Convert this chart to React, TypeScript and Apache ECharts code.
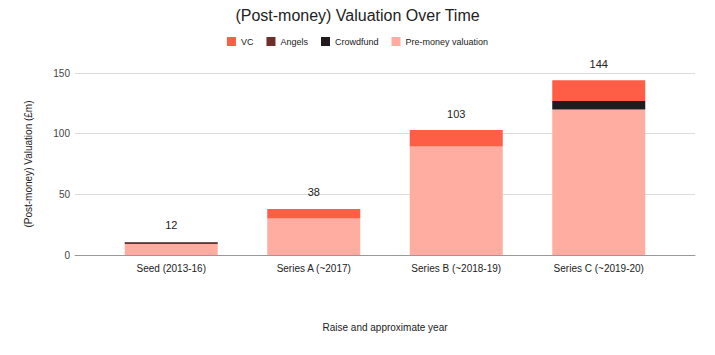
import React, { useEffect, useRef } from "react";
import * as echarts from "echarts";

const categories = ["Seed (2013-16)", "Series A (~2017)", "Series B (~2018-19)", "Series C (~2019-20)"];
const preMoney = [9, 30, 89.5, 120];
const angels = [1.3, 0, 0, 0];
const crowdfund = [0.5, 0, 0, 7];
const vc = [0, 8, 13.5, 17];
const totalLabels = [12, 38, 103, 144];
const yTicks = { min: 0, max: 150, interval: 50 };

const FONT = "'Liberation Sans', Arial, sans-serif";

export default function App() {
  const ref = useRef<HTMLDivElement>(null);
  useEffect(() => {
    if (!ref.current) return;
    const chart = echarts.init(ref.current, null, { renderer: "svg" });
    const barCommon = {
      type: "bar" as const,
      stack: "total",
      xAxisIndex: 1,
      yAxisIndex: 1,
      barWidth: 93,
    };
    chart.setOption({
      animation: false,
      backgroundColor: "#ffffff",
      textStyle: { fontFamily: FONT },
      title: {
        text: "(Post-money) Valuation Over Time",
        left: "center",
        top: 2,
        textStyle: { fontSize: 16, fontWeight: "normal", color: "#222", fontFamily: FONT },
      },
      legend: {
        data: ["VC", "Angels", "Crowdfund", "Pre-money valuation"],
        top: 32,
        left: "center",
        icon: "rect",
        itemWidth: 9,
        itemHeight: 9,
        itemGap: 13,
        textStyle: { fontSize: 9, color: "#222", fontFamily: FONT },
      },
      grid: [
        { left: 75, right: 20, top: 73, bottom: 100 },
        { left: 100, right: 45, top: 73, bottom: 100 },
      ],
      xAxis: [
        {
          gridIndex: 0,
          type: "value",
          min: 0,
          max: 1,
          axisLabel: { show: false },
          axisTick: { show: false },
          splitLine: { show: false },
          axisLine: { show: true, lineStyle: { color: "#999", width: 1 } },
          name: "Raise and approximate year",
          nameLocation: "middle",
          nameGap: 67,
          nameTextStyle: { fontSize: 10, color: "#222", fontFamily: FONT },
        },
        {
          gridIndex: 1,
          type: "category",
          data: categories,
          axisLine: { show: false },
          axisTick: { show: false },
          axisLabel: { fontSize: 10, color: "#222", margin: 8, fontFamily: FONT },
        },
      ],
      yAxis: [
        {
          gridIndex: 0,
          type: "value",
          min: yTicks.min,
          max: yTicks.max,
          interval: yTicks.interval,
          axisLine: { show: false },
          axisTick: { show: false },
          axisLabel: { fontSize: 10, color: "#444", margin: 5, fontFamily: FONT },
          splitLine: { lineStyle: { color: "#dddddd", width: 1 } },
          name: "(Post-money) Valuation (£m)",
          nameLocation: "middle",
          nameGap: 42,
          nameTextStyle: { fontSize: 10, color: "#222", fontFamily: FONT },
        },
        {
          gridIndex: 1,
          type: "value",
          min: yTicks.min,
          max: yTicks.max,
          interval: yTicks.interval,
          show: false,
          splitLine: { show: false },
        },
      ],
      series: [
        { ...barCommon, name: "Pre-money valuation", data: preMoney, itemStyle: { color: "#ffada0" } },
        { ...barCommon, name: "Angels", data: angels, itemStyle: { color: "#6e2f2b" } },
        { ...barCommon, name: "Crowdfund", data: crowdfund, itemStyle: { color: "#1f1b1e" } },
        { ...barCommon, name: "VC", data: vc, itemStyle: { color: "#ff5e46" } },
        {
          ...barCommon,
          name: "total",
          data: categories.map(() => 0),
          itemStyle: { color: "transparent" },
          label: {
            show: true,
            position: "top",
            distance: 11,
            fontSize: 11,
            color: "#222",
            fontFamily: FONT,
            formatter: (p: any) => String(totalLabels[p.dataIndex]),
          },
        },
      ],
    });
    return () => chart.dispose();
  }, []);
  return (
    <div
      ref={ref}
      style={{ position: "fixed", left: 0, top: 0, width: 715, height: 355 }}
    />
  );
}
